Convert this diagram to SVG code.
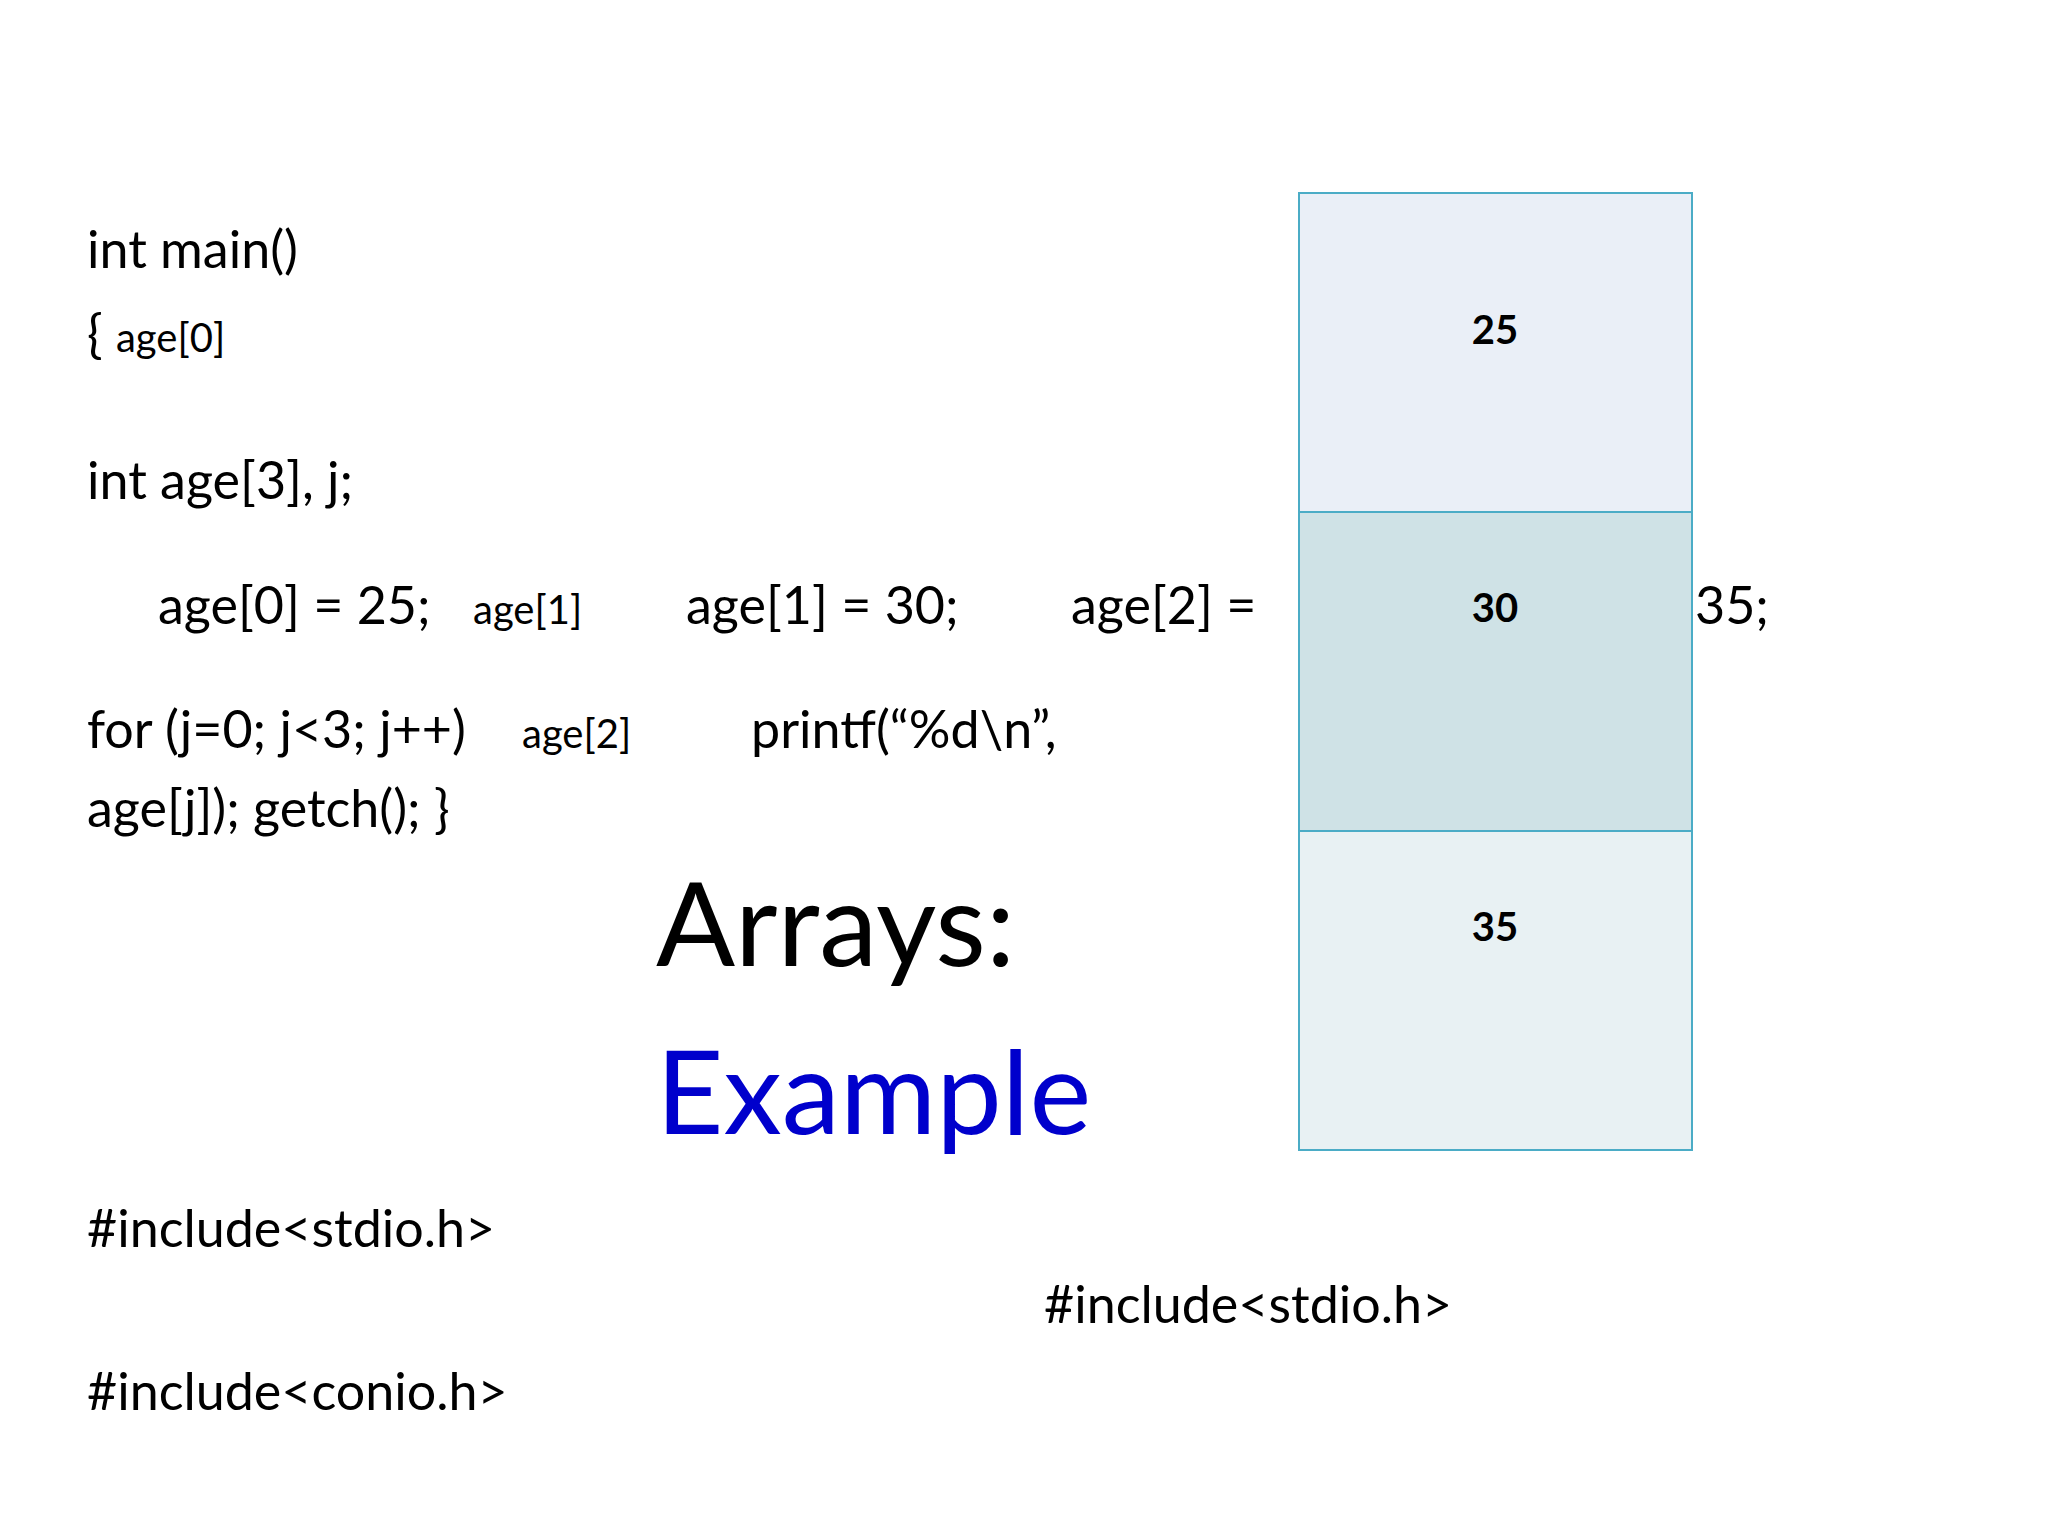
<svg xmlns="http://www.w3.org/2000/svg" width="2048" height="1536" viewBox="0 0 2048 1536">
<style>
text{font-family:Lato,"Open Sans",sans-serif;fill:#000}
.c{font-size:52px}
.s{font-size:40px}
.n{font-size:40px;font-weight:bold;text-anchor:middle}
.cell{stroke:#4BACC6;stroke-width:2}
</style>
<rect width="2048" height="1536" fill="#fff"/>
<g id="array">
<rect class="cell" x="1299" y="193" width="393" height="319" fill="#EAEFF7"/>
<rect class="cell" x="1299" y="512" width="393" height="319" fill="#CFE2E6"/>
<rect class="cell" x="1299" y="831" width="393" height="319" fill="#E8F1F3"/>
<text class="n" x="1495" y="344">25</text>
<text class="n" x="1495" y="622">30</text>
<text class="n" x="1495" y="941">35</text>
</g>
<g id="code">
<text class="c" x="87" y="268">int main()</text>
<text class="c" x="87" y="352">{ <tspan class="s">age[0]</tspan></text>
<text class="c" x="87" y="499">int age[3], j;</text>
<text class="c" x="158" y="624">age[0] = 25;</text>
<text class="s" x="473" y="624">age[1]</text>
<text class="c" x="686" y="624">age[1] = 30;</text>
<text class="c" x="1071" y="624">age[2] =</text>
<text class="c" x="1695" y="624">35;</text>
<text class="c" x="87" y="748">for (j=0; j&lt;3; j++)</text>
<text class="s" x="522" y="748">age[2]</text>
<text class="c" x="751" y="748">printf(“%d\n”,</text>
<text class="c" x="87" y="827">age[j]); getch(); }</text>
<text x="656" y="966" style="font-size:117px">Arrays:</text>
<text x="656" y="1134" style="font-size:117px;fill:#0000CC">Example</text>
<text class="c" x="87" y="1247">#include&lt;stdio.h&gt;</text>
<text class="c" x="1044" y="1323">#include&lt;stdio.h&gt;</text>
<text class="c" x="87" y="1410">#include&lt;conio.h&gt;</text>
</g>
</svg>
